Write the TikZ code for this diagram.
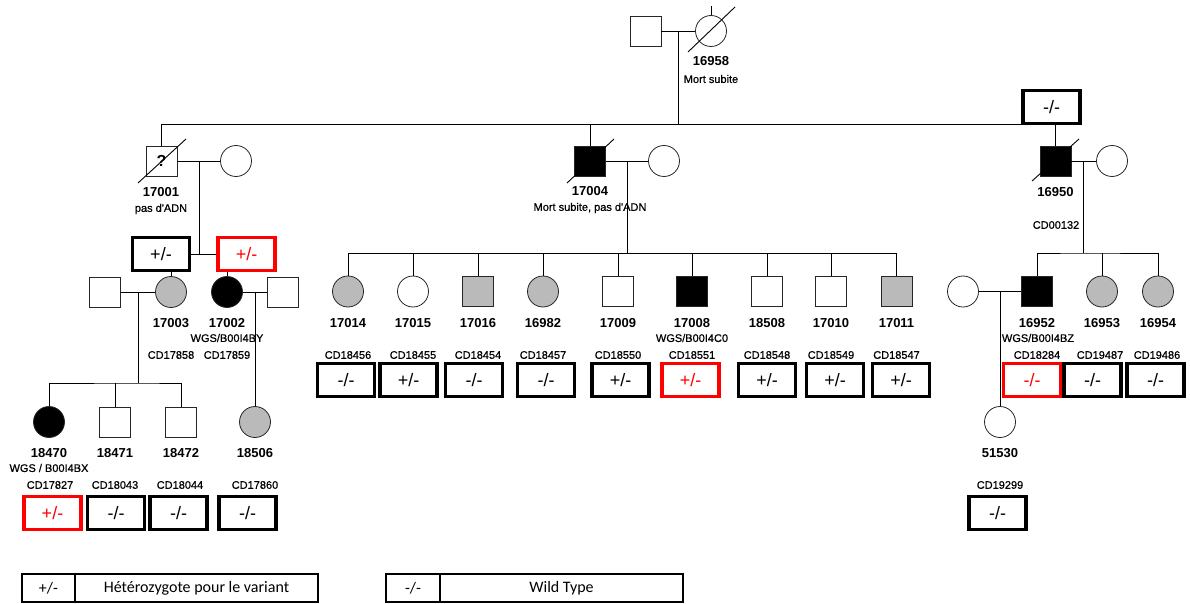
\documentclass[tikz,border=0pt]{standalone}
\usepackage{fontspec}
\setmainfont{Liberation Sans}
\newfontfamily\legendfont{Carlito}
\newfontfamily\labelfont[FakeBold=0.7]{Liberation Sans}
\usetikzlibrary{positioning}

\newcommand{\het}{+/-}
\newcommand{\wt}{-/-}

\tikzset{
  indiv/.style={draw=black!85, line width=0.8pt, inner sep=0pt},
  male/.style={indiv, rectangle, minimum width=31pt, minimum height=30pt},
  female/.style={indiv, circle, minimum size=31pt},
  maleaffected/.style={male, fill=black},
  malecarrier/.style={male, fill=black!27},
  femaffected/.style={female, fill=black},
  femcarrier/.style={female, fill=black!27},
  idnum/.style={font=\fontsize{13}{13}\selectfont\bfseries},
  sublab/.style={font=\labelfont\fontsize{11}{11}\selectfont},
  geno/.style={draw, line width=3.6pt, minimum width=57pt, minimum height=33pt, fill=white, font=\fontsize{18}{18}\selectfont},
  genored/.style={geno, draw=red, text=red},
  legbox/.style={draw, line width=2.6pt, minimum height=28pt, outer sep=0pt, font=\legendfont\fontsize{16}{16}\selectfont},
}

\begin{document}
\begin{tikzpicture}[x=1pt, y=-1pt, line width=0.9pt]
\useasboundingbox (0,0) rectangle (1190,604);

% generation I
\node[male] (h16958) at (645.5,31) {};
\node[female] (g16958) at (711,31) {};
\draw (688,52) -- (735,7);
\draw (g16958.north) -- ++(0,-9);
\node[idnum] at (711,61) {16958};
\node[sublab] at (711,79) {Mort subite};
\draw (h16958) -- (g16958);
\coordinate (m16958) at (678,31);

% generation II
\node[male] (g17001) at (161.5,161) {\fontsize{16}{16}\selectfont\bfseries ?};
\draw (138,183) -- (186,139);
\node[female] (w17001) at (236,161) {};
\draw (g17001) -- (w17001);
\coordinate (m17001) at (199,161);
\node[idnum] at (161,192) {17001};
\node[sublab] at (161,209) {pas d'ADN};

\node[maleaffected] (g17004) at (590,161) {};
\draw (567,183) -- (614,139);
\node[female] (w17004) at (664,161) {};
\draw (g17004) -- (w17004);
\coordinate (m17004) at (627,161);
\node[idnum] at (590,191) {17004};
\node[sublab] at (590,208) {Mort subite, pas d'ADN};

\node[maleaffected] (g16950) at (1055.5,161) {};
\draw (1032,181) -- (1079,139);
\node[female] (w16950) at (1112,161) {};
\draw (g16950) -- (w16950);
\coordinate (m16950) at (1083,161);
\node[idnum] at (1055.5,192) {16950};
\node[sublab] at (1056,225) {CD00132};

\draw (g17001.north) |- (1021,124);
\draw (m16958) -- (678,124);
\draw (g17004.north) -- (590,124);
\draw (g16950.north) -- (1055.5,124);
\node[geno] (b16950) at (1051.5,107) {\wt};

% generation III, left
\node[geno] (b17003) at (161,254) {\het};
\node[genored] (b17002) at (246.5,254) {\het};
\draw (b17003.east) -- (b17002.west);
\draw (m17001) -- (m17001 |- b17003.east);
\node[femcarrier] (g17003) at (171,292) {};
\node[femaffected] (g17002) at (227,292) {};
\draw (g17003.north) -- (g17003 |- b17003.south);
\draw (g17002.north) -- (g17002 |- b17002.south);
\node[male] (h17003) at (105,292) {};
\node[male] (h17002) at (282.5,292) {};
\draw (h17003) -- (g17003);
\draw (g17002) -- (h17002);
\coordinate (m17003) at (138,292);
\coordinate (m17002) at (255,292);
\node[idnum] at (171,323) {17003};
\node[idnum] at (227,323) {17002};
\node[sublab] at (227,338) {WGS/B00I4BY};
\node[sublab] at (171,355) {CD17858};
\node[sublab] at (227,355) {CD17859};

% generation III, middle
\coordinate (s17004) at (627,253);
\draw (m17004) -- (s17004);
\foreach \x/\sym/\id/\cd/\bx/\gs/\gt in {
  348/femcarrier/17014/CD18456/346/geno/\wt,
  413/female/17015/CD18455/408.5/geno/\het,
  478/malecarrier/17016/CD18454/474/geno/\wt,
  543/femcarrier/16982/CD18457/546/geno/\wt,
  618/male/17009/CD18550/620.5/geno/\het,
  692/maleaffected/17008/CD18551/690.5/genored/\het,
  767/male/18508/CD18548/767/geno/\het,
  831/male/17010/CD18549/835/geno/\het,
  896.5/malecarrier/17011/CD18547/901/geno/\het}{
  \node[\sym] (c\id) at (\x,291.5) {};
  \draw (c\id.north) -- (c\id |- s17004);
  \node[idnum] at (\x,323) {\id};
  \node[sublab] at (\x,355) {\cd};
  \node[\gs] (b\id) at (\bx,380) {\gt};
}
\draw (c17014 |- s17004) -- (c17011 |- s17004);
\node[sublab] at (692,338) {WGS/B00I4C0};

% generation III, right
\coordinate (s16950) at (1083,253);
\draw (m16950) -- (s16950);
\node[maleaffected] (g16952) at (1037,291.5) {};
\node[femcarrier] (g16953) at (1102,291.5) {};
\node[femcarrier] (g16954) at (1158,291.5) {};
\draw (g16952.north) |- (s16950) -| (g16954.north);
\draw (g16953.north) -- (g16953 |- s16950);
\node[female] (w16952) at (963,291.5) {};
\draw (w16952) -- (g16952);
\coordinate (m16952) at (1000,291.5);
\node[idnum] at (1037,323) {16952};
\node[idnum] at (1102,323) {16953};
\node[idnum] at (1158,323) {16954};
\node[sublab] at (1038,338) {WGS/B00I4BZ};
\node[sublab] at (1037,355) {CD18284};
\node[sublab] at (1100,355) {CD19487};
\node[sublab] at (1157,355) {CD19486};
\node[genored] (b16952) at (1032,380) {\wt};
\node[geno] (b16953) at (1092.5,380) {\wt};
\node[geno] (b16954) at (1155.5,380) {\wt};

% generation IV
\coordinate (s17003) at (138,383);
\node[femaffected] (g18470) at (49,422) {};
\node[male] (g18471) at (115,422) {};
\node[male] (g18472) at (181,422) {};
\node[femcarrier] (g18506) at (255,422) {};
\draw (m17003) -- (s17003);
\draw (g18470.north) |- (s17003) -| (g18472.north);
\draw (g18471.north) -- (g18471 |- s17003);
\draw (m17002) -- (g18506.north);
\node[idnum] at (49,453) {18470};
\node[idnum] at (115,453) {18471};
\node[idnum] at (181,453) {18472};
\node[idnum] at (255,453) {18506};
\node[sublab] at (49,468) {WGS / B00I4BX};
\node[sublab] at (50,485) {CD17827};
\node[sublab] at (115,485) {CD18043};
\node[sublab] at (180,485) {CD18044};
\node[sublab] at (255,485) {CD17860};
\node[genored] (b18470) at (52.5,513) {\het};
\node[geno] (b18471) at (116,513) {\wt};
\node[geno] (b18472) at (178.5,513) {\wt};
\node[geno] (b18506) at (247.5,513) {\wt};

\node[female] (g51530) at (1000,422) {};
\draw (m16952) -- (g51530.north);
\node[idnum] at (1000,453) {51530};
\node[sublab] at (1000,485) {CD19299};
\node[geno] (b51530) at (997.5,513) {\wt};

% legend
\node[legbox, minimum width=53pt] (lghet) at (48.5,588) {+/-};
\node[legbox, minimum width=243pt, right=0pt of lghet] (lghettext) {Hétérozygote pour le variant};
\node[legbox, minimum width=54pt] (lgwt) at (413,588) {-/-};
\node[legbox, minimum width=243pt, right=0pt of lgwt] (lgwttext) {Wild Type};
\end{tikzpicture}
\end{document}
